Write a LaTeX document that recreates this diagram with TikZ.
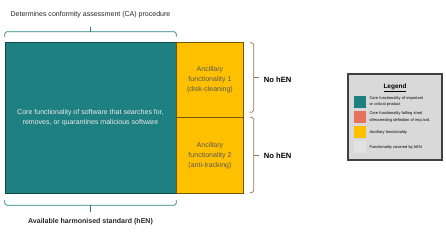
\documentclass[tikz,border=0pt]{standalone}
\usepackage{fontspec}
\setmainfont{Liberation Sans}
\usetikzlibrary{positioning}

\definecolor{coreteal}{RGB}{31,128,130}
\definecolor{ancyellow}{RGB}{255,192,0}
\definecolor{critred}{RGB}{232,114,92}
\definecolor{legendgray}{RGB}{217,217,217}
\definecolor{hengray}{RGB}{226,226,226}
\definecolor{bracebrown}{RGB}{140,122,80}
\definecolor{braceteal}{RGB}{40,130,130}

\begin{document}
\begin{tikzpicture}[
	x=0.03cm, y=-0.03cm,
	font=\fontsize{6}{8}\selectfont,
	corebox/.style={draw=coreteal!55!black, fill=coreteal, text=white!92!black, align=center, minimum width=5.13cm, minimum height=4.53cm, inner sep=0},
	ancbox/.style={draw=ancyellow!45!black, fill=ancyellow, text=black!65, align=center, minimum width=2.01cm, inner sep=0, font=\fontsize{6}{8.5}\selectfont},
	lbl/.style={inner sep=0, align=center, text=black!85},
	nohen/.style={inner sep=0, font=\fontsize{6.5}{8}\selectfont\bfseries},
	cbracket/.style={draw=braceteal, semithick, rounded corners=1.5pt},
	rbracket/.style={draw=bracebrown, semithick, rounded corners=1.5pt},
	keybox/.style={draw=none, minimum size=0.36cm, inner sep=0},
	keytext/.style={inner sep=0, align=left, text width=2.1cm, font=\fontsize{3.4}{5.5}\selectfont}
]
\useasboundingbox (0,0) rectangle (446,238);

% functionality blocks
\node[corebox] (core) at (90.5,117.5) {Core functionality of software that searches for,\\ removes, or quarantines malicious software};
\node[ancbox, minimum height=2.25cm, anchor=north west] (anc1) at (core.north east) {Ancillary\\ functionality 1\\ (disk-cleaning)};
\node[ancbox, minimum height=2.28cm, anchor=north west] (anc2) at (anc1.south west) {Ancillary\\ functionality 2\\ (anti-tracking)};

% brackets
\draw[cbracket] ([yshift=0.15cm]core.north west) -- ([yshift=0.3cm]core.north west) -- ([yshift=0.3cm]core.north east) -- ([yshift=0.15cm]core.north east);
\draw[cbracket] ([yshift=0.3cm]core.north) -- ([yshift=0.45cm]core.north);
\draw[cbracket] ([yshift=-0.21cm]core.south west) -- ([yshift=-0.36cm]core.south west) -- ([yshift=-0.36cm]core.south east) -- ([yshift=-0.21cm]core.south east);
\draw[cbracket] ([yshift=-0.36cm]core.south) -- ([yshift=-0.57cm]core.south);
\draw[rbracket] ([xshift=0.18cm,yshift=-0.03cm]anc1.north east) -- ([xshift=0.3cm,yshift=-0.03cm]anc1.north east) -- ([xshift=0.3cm,yshift=0.15cm]anc1.south east) -- ([xshift=0.18cm,yshift=0.15cm]anc1.south east);
\draw[rbracket] ([xshift=0.3cm,yshift=0.06cm]anc1.east) -- ([xshift=0.45cm,yshift=0.06cm]anc1.east);
\draw[rbracket] ([xshift=0.18cm,yshift=0cm]anc2.north east) -- ([xshift=0.3cm,yshift=0cm]anc2.north east) -- ([xshift=0.3cm,yshift=0.03cm]anc2.south east) -- ([xshift=0.18cm,yshift=0.03cm]anc2.south east);
\draw[rbracket] ([xshift=0.3cm]anc2.east) -- ([xshift=0.45cm]anc2.east);

% labels
\node[lbl, above=0.72cm of core] (ca) {Determines conformity assessment (CA) procedure};
\node[lbl, below=0.76cm of core, font=\fontsize{6}{8}\selectfont\bfseries] (hen) {Available harmonised standard (hEN)};
\node[nohen, right=0.6cm of anc1] (nohen1) {No hEN};
\node[nohen, right=0.6cm of anc2] (nohen2) {No hEN};

% legend
\node[draw=black!75, line width=0.9pt, fill=legendgray, minimum width=2.82cm, minimum height=2.58cm] (legend) at (395,117) {};
\node[below=0.3cm of legend.north, inner sep=0, font=\fontsize{5.5}{6}\selectfont\bfseries] (legtitle) {\underline{Legend}};
\node[keybox, fill=coreteal, anchor=north west] (key1) at ([xshift=0.18cm,yshift=-0.66cm]legend.north west) {};
\node[keybox, fill=critred, below=0.08cm of key1] (key2) {};
\node[keybox, fill=ancyellow, below=0.08cm of key2] (key3) {};
\node[keybox, fill=hengray, below=0.08cm of key3] (key4) {};
\node[keytext, right=0.1cm of key1] (keytext1) {Core functionality of important\\ or critical product};
\node[keytext, right=0.1cm of key2] (keytext2) {Core functionality falling short\\ of/exceeding definition of imp./crit.};
\node[keytext, right=0.1cm of key3] (keytext3) {Ancillary functionality};
\node[keytext, right=0.1cm of key4] (keytext4) {Functionality covered by hEN};
\end{tikzpicture}
\end{document}
